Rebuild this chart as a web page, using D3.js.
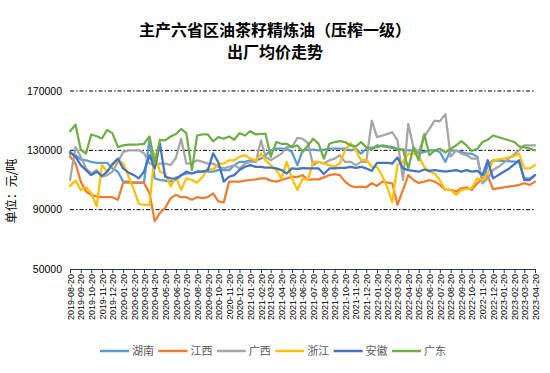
<!DOCTYPE html>
<html>
<head>
<meta charset="utf-8">
<script src="https://cdn.jsdelivr.net/npm/d3@7"></script>
<style>
  body { margin: 0; background: #fff; }
  text { font-family: "Liberation Sans", Arial, sans-serif; }
  .cjk { font-family: "Noto Sans CJK SC", sans-serif; }
</style>
</head>
<body>
<svg id="chart" width="550" height="373"></svg>
<script>
// chart texts
const titleLines = ["主产六省区油茶籽精炼油（压榨一级）", "出厂均价走势"];
const yTitle = "单位：元/吨";
const seriesNames = ["湖南", "江西", "广西", "浙江", "安徽", "广东"];
const seriesColors = ["#5B9BD5", "#ED7D31", "#A5A5A5", "#FFC000", "#4472C4", "#70AD47"];
const yTicks = [50000, 90000, 130000, 170000];

// price series, one value per half month (null = no quote)
const hunan = [
  127800, 126700, 123800, 123300, 122200, 121600, 121600, 121600, 117800, 115600,
  108900, 108900, 108200, 108200, 108200, 137800, 111100, 110000, 109600, 108900,
  110000, 113000, 114400, 114400, 115600, 115600, 115600, 115600, 116700, 116700,
  116700, 120000, 122200, 122200, 123300, 123300, 124400, 126700, 130000, 131100,
  131100, 131100, 128900, 120000, 130000, 130400, 130400, 130000, 130400, 131100,
  131100, 131100, 131100, 130000, 131100, 127800, 131100, 131800, 132200, 133300,
  132700, 132200, 131100, 130400, 130000, 130000, 128000, 128900, 130000, 130000,
  128900, 122200, 130000, 129600, 128900, 127800, 127800, 125600, 107800, 120000,
  123300, null, null, null, null, 122200, 111100, 111100, 113300
];
const jiangxi = [
  126000, 121100, 108900, 102200, 100000, 98900, 98400, 98400, 98400, 96700,
  108200, 108200, 108200, 108200, 108200, 101100, 82200, 87800, 91100, 97800,
  100000, 98400, 98400, 96700, 98400, 97800, 98400, 101000, 95600, 94900,
  108900, 108900, 108900, 109600, 110000, 110400, 111100, 111100, 109600, 108900,
  110000, 111100, 112200, 112000, 113300, 110000, 110400, 110400, 111800, 113300,
  114000, 113300, 108900, 106000, 105100, 105600, 105100, 107800, 106000, 108900,
  108200, 107800, 93300, 103300, 113300, 110000, 108000, 108900, 110000, 108900,
  106700, 103300, 103300, 102200, 104400, 105100, 103300, 107800, 111100, 112700,
  103800, null, 105100, null, 106000, 106700, 107800, 106700, 108900
];
const guangxi = [
  110000, 132200, 125600, 117800, 114400, 116700, 112200, 113300, 115600, 122200,
  128900, 130000, 130000, 130000, 128000, 121100, 120000, 121100, 121100, 120000,
  125000, 137800, 121100, 121100, 123300, 122200, 121100, 121100, 118900, 117800,
  118900, 120000, 117800, 121100, 122200, 122200, 136700, 125600, 123300, 125600,
  127800, 132200, 132200, 138400, 137800, 135000, 120000, 122200, 121100, 123300,
  124400, 126700, 122200, 122200, 120000, 122200, 122200, 150000, 138900, 140000,
  141100, 142200, 136700, 110000, 147800, 132200, 128900, 139000, 144400, 150000,
  149600, 154400, 125600, 130000, 127800, 126700, 124400, 124400, 107800, 111100,
  116700, 118900, null, null, null, 130000, 133300, 133300, 133300
];
const zhejiang = [
  106000, 109600, 103300, 105100, 101100, 92200, 120000, 115600, 120000, 123300,
  121100, 112200, 103300, 94000, 93300, 93300, 128000, 115600, 114400, 105600,
  112000, 103300, 111100, 110000, 108200, 112200, 117800, 116700, 121100, 121100,
  123300, 123300, 125600, 126700, 124400, 123300, 127800, 123300, 120000, 116700,
  111100, 122200, 111100, 103300, 111100, 110000, 122200, 122200, 121100, 120000,
  118900, 121100, 130000, 134900, 130000, 123300, 123800, 118900, 118900, 112200,
  104400, 95000, 120000, 122200, 127800, 127800, 126000, 118900, 115600, 114400,
  110000, 103300, 103300, 100000, 103300, 104000, 104400, 111100, 110000, 114400,
  123300, null, 124400, null, 126000, 127800, 117800, 117800, 120000
];
const anhui = [
  128900, 125600, 120000, 116700, 113300, 115600, 112700, 115600, 120700, 124400,
  117800, 114900, 113300, 111100, 115600, 126700, 117800, 134400, 112200, 111100,
  111000, 113300, 115600, 114400, 115600, 115600, 116700, 128000, 122000, 108900,
  112200, 113300, 116700, 118900, 120000, 118900, 118900, 118400, 118400, 117800,
  116700, 114400, 117800, 117500, 118000, 117800, 117800, 117800, 114000, 117800,
  117800, 118200, 118200, 118900, 118200, 118900, 117800, 116200, 121600, 121600,
  121600, 121100, 125100, 117800, 116700, 116200, 115600, 117100, 116200, 116700,
  116200, 115600, 116200, 116700, 115600, 116700, 115600, 116200, 113300, 123300,
  111100, null, 115600, 117800, null, 123300, 110000, 110000, 113300
];
const guangdong = [
  142900, 147300, 130400, 127800, 140700, 139500, 138000, 143800, 141600, 132200,
  133300, 133800, 133800, 134000, 134400, 139300, 121100, 137100, 136700, 139300,
  141000, 144400, 141600, 116700, 140000, 140700, 140700, 136000, 138900, 137800,
  139300, 137100, 141600, 140000, 142900, 140700, 141100, 141100, 125600, 135600,
  134400, 134400, 132200, 133300, 129000, 133300, 137800, 134400, 124400, 134400,
  135600, 136200, 135600, 133300, 132700, 135600, 132200, 130400, 133300, 132700,
  132200, 131600, 130400, 130400, 117800, 132000, 123300, 141000, 126700, 130000,
  131100, 128500, 131100, 133300, 136200, 133300, 129600, 131100, 135600, 137100,
  140000, null, 137800, null, 135600, 132700, 132200, 131100, 130000
];
const seriesValues = [hunan, jiangxi, guangxi, zhejiang, anhui, guangdong];

// quote dates: the 20th and the 5th of each month, 2019-08-20 .. 2023-04-20
const dates = d3.range(hunan.length).map(i =>
  i % 2 === 0 ? new Date(2019, 7 + i / 2, 20) : new Date(2019, 7 + (i + 1) / 2, 5));
// axis labels: every month on the 20th
const tickDates = d3.range(45).map(k => new Date(2019, 7 + k, 20));

const svg = d3.select("#chart");

const x = d3.scaleTime()
  .domain([dates[0], dates[dates.length - 1]])
  .range([70, 535]);
const y = d3.scaleLinear()
  .domain([50000, 170000])
  .range([269, 91]);

// title, two lines
svg.append("g")
  .selectAll("text")
  .data(titleLines)
  .enter().append("text")
  .attr("class", "cjk")
  .attr("x", 275)
  .attr("y", (d, i) => 36 + i * 22)
  .attr("text-anchor", "middle")
  .attr("font-size", 16)
  .attr("font-weight", "bold")
  .attr("fill", "#000")
  .text(d => d);

// dash-dot gridlines
svg.append("g")
  .selectAll("line")
  .data(yTicks.filter(v => v > 50000))
  .enter().append("line")
  .attr("x1", 70)
  .attr("x2", 535)
  .attr("y1", d => y(d))
  .attr("y2", d => y(d))
  .attr("stroke", "#000")
  .attr("stroke-width", 1)
  .attr("stroke-dasharray", "4,2,1.5,2");

// y tick labels
svg.append("g")
  .selectAll("text")
  .data(yTicks)
  .enter().append("text")
  .attr("x", 62)
  .attr("y", d => y(d))
  .attr("dy", "0.35em")
  .attr("text-anchor", "end")
  .attr("font-size", 10.5)
  .attr("fill", "#000")
  .text(d => d);

// y title
svg.append("text")
  .attr("class", "cjk")
  .attr("transform", "translate(16,191) rotate(-90)")
  .attr("text-anchor", "middle")
  .attr("font-size", 12)
  .attr("fill", "#000")
  .text(yTitle);

// x axis
const xAxis = svg.append("g")
  .attr("transform", `translate(0,${y(50000)})`)
  .call(d3.axisBottom(x)
    .tickValues(tickDates)
    .tickSize(4)
    .tickSizeOuter(0)
    .tickFormat(d3.timeFormat("%Y-%m-%d")));
xAxis.select(".domain").attr("stroke", "#203864");
xAxis.selectAll(".tick line").attr("stroke", "#203864");
xAxis.selectAll(".tick text")
  .attr("transform", "rotate(-90)")
  .attr("x", -5)
  .attr("y", 0)
  .attr("dy", "0.35em")
  .attr("text-anchor", "end")
  .attr("font-size", 9)
  .attr("font-family", "Liberation Sans, Arial, sans-serif")
  .attr("fill", "#000");

// lines
const line = d3.line()
  .x(d => x(d.date))
  .y(d => y(d.value));

svg.append("g")
  .selectAll("path")
  .data(seriesValues)
  .enter().append("path")
  .attr("fill", "none")
  .attr("stroke", (d, i) => seriesColors[i])
  .attr("stroke-width", 2.25)
  .attr("stroke-linejoin", "round")
  .attr("stroke-linecap", "round")
  .attr("d", vals => line(vals
    .map((v, i) => ({date: dates[i], value: v}))
    .filter(p => p.value !== null)));

// legend
const legend = svg.append("g")
  .selectAll("g")
  .data(seriesNames)
  .enter().append("g")
  .attr("transform", (d, i) => `translate(${100 + i * 58.4},351)`);
legend.append("line")
  .attr("x1", 0)
  .attr("x2", 29)
  .attr("stroke", (d, i) => seriesColors[i])
  .attr("stroke-width", 2.5);
legend.append("text")
  .attr("class", "cjk")
  .attr("x", 32)
  .attr("dy", "0.35em")
  .attr("font-size", 11)
  .attr("fill", "#595959")
  .text(d => d);
</script>
</body>
</html>
